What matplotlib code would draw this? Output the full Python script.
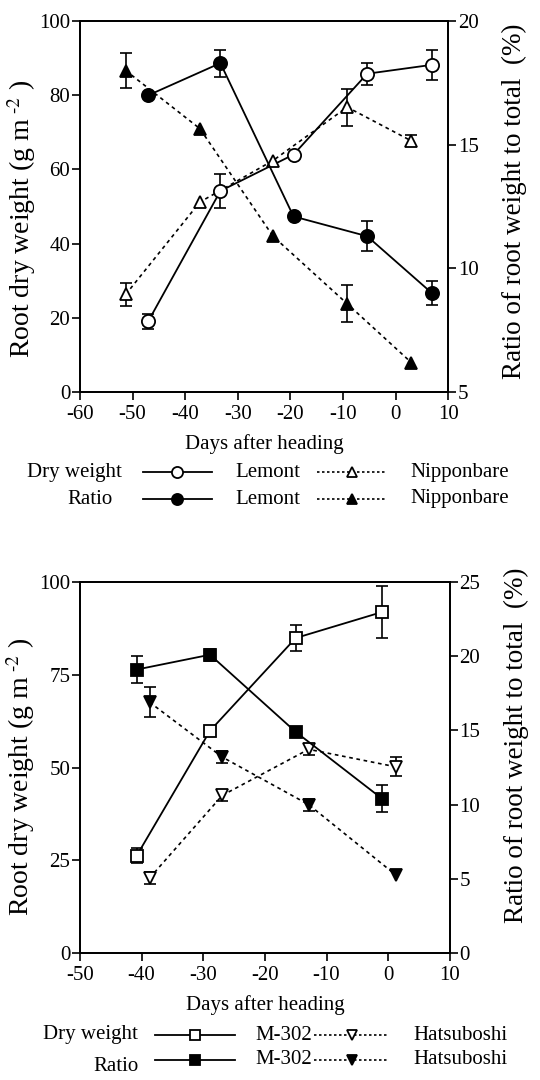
import numpy as np
import matplotlib
matplotlib.use('Agg')
from matplotlib import pyplot as plt
from matplotlib.lines import Line2D

plt.rcParams['font.family'] = ['Liberation Serif', 'DejaVu Serif']
plt.rcParams['mathtext.fontset'] = 'stix'
plt.rcParams['axes.unicode_minus'] = False

# --- top panel: Lemont / Nipponbare ---
lemont_days = [-47, -33.3, -19.4, -5.4, 6.9]
lemont_dw = [19.1, 54.2, 64.0, 85.8, 88.2]
lemont_dw_err = [2, 4.5, 0, 3, 4]
lemont_ratio = [17.0, 18.3, 12.1, 11.3, 9.0]
lemont_ratio_err = [0, 0.55, 0, 0.6, 0.5]

nippon_days = [-51.3, -37.2, -23.3, -9.2, 3.0]
nippon_dw = [26.3, 51.2, 62.4, 76.8, 67.7]
nippon_dw_err = [3.2, 0, 0, 5, 1.5]
nippon_ratio = [18.0, 15.65, 11.3, 8.57, 6.19]
nippon_ratio_err = [0.7, 0, 0, 0.75, 0]

# --- bottom panel: M-302 / Hatsuboshi ---
m302_days = [-40.8, -28.9, -15.0, -1.0]
m302_dw = [26.2, 59.9, 84.9, 91.9]
m302_dw_err = [2, 0, 3.5, 7]
m302_ratio = [19.1, 20.1, 14.9, 10.4]
m302_ratio_err = [0.9, 0.4, 0, 0.9]

hatsu_days = [-38.7, -26.9, -12.9, 1.2]
hatsu_dw = [20.2, 42.5, 54.9, 50.2]
hatsu_dw_err = [1.5, 1.5, 1.5, 2.5]
hatsu_ratio = [16.9, 13.2, 10.0, 5.27]
hatsu_ratio_err = [1.0, 0.4, 0.4, 0]

SOLID = '-'
DOTTED = (0, (2.2, 2.2))
LEG_FS = 15


def draw_series(ax, x, y, err, marker, filled, ls, ms):
  x = np.array(x); y = np.array(y); err = np.array(err, dtype=float)
  ax.plot(x, y, color='black', ls=ls, lw=1.3 if ls == SOLID else 1.2, zorder=2)
  m = err > 0
  if m.any():
    ax.errorbar(x[m], y[m], yerr=err[m], fmt='none', ecolor='black',
                elinewidth=1.2, capsize=4.5, capthick=1.2, zorder=3)
  ax.plot(x, y, ls='none', marker=marker, ms=ms,
          mfc='black' if filled else 'white', mec='black', mew=1.3,
          zorder=4)


def style_axes(ax, ax2, left_y, right_y):
  for a in (ax, ax2):
    for s in a.spines.values():
      s.set_linewidth(1.3)
    a.tick_params(direction='out', length=6, width=1.2, labelsize=15)
  ax.tick_params(axis='y', pad=1)
  ax2.tick_params(axis='y', pad=1)
  ax.set_xlabel('Days after heading', fontsize=15, labelpad=7)
  ax.set_ylabel('Root dry weight (g m$^{\\ \\text{-2}}$ )', fontsize=20)
  ax.yaxis.set_label_coords(-0.115, left_y)
  ax2.set_ylabel('Ratio of root weight to total  (%)', fontsize=19.5)
  ax2.yaxis.set_label_coords(1.145, right_y)


def legend_row(fig, y, label, label_right, line_x, name1, name_x1,
               dot_x, name2, name_x2, marker1, marker2, filled, ms1, ms2,
               label_dy=0.0):
  fig.text(label_right, y + label_dy, label, ha='right', va='center',
           fontsize=LEG_FS)
  fig.add_artist(Line2D(np.linspace(line_x[0], line_x[1], 3), [y] * 3,
                        transform=fig.transFigure, color='black', lw=1.3,
                        marker=marker1, markevery=[1], ms=ms1,
                        mfc='black' if filled else 'white', mec='black',
                        mew=1.3))
  fig.text(name_x1, y, name1, ha='left', va='center', fontsize=LEG_FS)
  fig.add_artist(Line2D(np.linspace(dot_x[0], dot_x[1], 3), [y] * 3,
                        transform=fig.transFigure, color='black', lw=1.2,
                        ls=(0, (1.5, 1.5)),
                        marker=marker2, markevery=[1], ms=ms2,
                        mfc='black' if filled else 'white', mec='black',
                        mew=1.3))
  fig.text(name_x2, y, name2, ha='left', va='center', fontsize=LEG_FS)


fig = plt.figure(figsize=(5.4, 10.8), dpi=100)

# top panel
ax = fig.add_axes([0.148, 0.637, 0.682, 0.3435])
ax2 = ax.twinx()
draw_series(ax, lemont_days, lemont_dw, lemont_dw_err, 'o', False, SOLID, 9.5)
draw_series(ax, nippon_days, nippon_dw, nippon_dw_err, '^', False, DOTTED, 8)
draw_series(ax2, lemont_days, lemont_ratio, lemont_ratio_err, 'o', True, SOLID, 9.5)
draw_series(ax2, nippon_days, nippon_ratio, nippon_ratio_err, '^', True, DOTTED, 8)
ax.set_xlim(-60, 10)
ax.set_xticks(np.arange(-60, 11, 10))
ax.set_ylim(0, 100)
ax.set_yticks(np.arange(0, 101, 20))
ax2.set_ylim(5, 20)
ax2.set_yticks([5, 10, 15, 20])
style_axes(ax, ax2, 0.466, 0.515)

legend_row(fig, 1 - 472 / 1080, 'Dry weight', 0.226, (0.265, 0.392),
           'Lemont', 0.435, (0.587, 0.717), 'Nipponbare', 0.76,
           'o', '^', False, 8, 6.5)
legend_row(fig, 1 - 499 / 1080, 'Ratio', 0.209, (0.265, 0.392),
           'Lemont', 0.435, (0.587, 0.717), 'Nipponbare', 0.76,
           'o', '^', True, 8, 6.5)

# bottom panel
bx = fig.add_axes([0.148, 0.1176, 0.685, 0.3435])
bx2 = bx.twinx()
draw_series(bx, m302_days, m302_dw, m302_dw_err, 's', False, SOLID, 8.5)
draw_series(bx, hatsu_days, hatsu_dw, hatsu_dw_err, 'v', False, DOTTED, 8)
draw_series(bx2, m302_days, m302_ratio, m302_ratio_err, 's', True, SOLID, 8.5)
draw_series(bx2, hatsu_days, hatsu_ratio, hatsu_ratio_err, 'v', True, DOTTED, 8)
bx.set_xlim(-50, 10)
bx.set_xticks(np.arange(-50, 11, 10))
bx.set_ylim(0, 100)
bx.set_yticks([0, 25, 50, 75, 100])
bx2.set_ylim(0, 25)
bx2.set_yticks([0, 5, 10, 15, 20, 25])
style_axes(bx, bx2, 0.474, 0.56)

legend_row(fig, 1 - 1035 / 1080, 'Dry weight', 0.256, (0.287, 0.435),
           'M-302', 0.472, (0.582, 0.72), 'Hatsuboshi', 0.765,
           's', 'v', False, 7.5, 6.5)
legend_row(fig, 1 - 1060 / 1080, 'Ratio', 0.256, (0.287, 0.435),
           'M-302', 0.472, (0.582, 0.72), 'Hatsuboshi', 0.765,
           's', 'v', True, 7.5, 6.5, label_dy=-0.006)

fig.savefig('out.png', dpi=100)
